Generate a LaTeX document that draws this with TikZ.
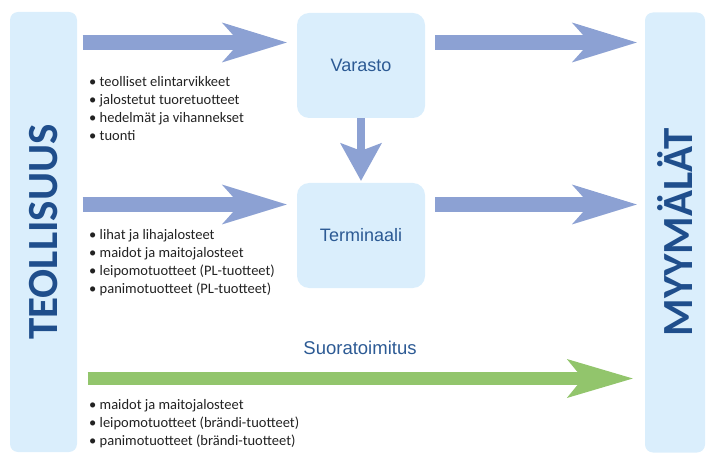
\documentclass[tikz,border=0pt]{standalone}
\usepackage{fontspec}
\setmainfont{Carlito}
\newfontfamily\arialfont{Liberation Sans}
\usepackage{graphicx}
\usepackage{xcolor}
\usetikzlibrary{arrows.meta}
\definecolor{barfill}{RGB}{218,238,252}
\definecolor{flowblue}{RGB}{140,161,211}
\definecolor{flowgreen}{RGB}{146,197,108}
\definecolor{barnavy}{RGB}{31,78,140}
\definecolor{hubblue}{RGB}{44,90,148}
\definecolor{itemgray}{RGB}{34,34,34}
\tikzset{
	bar/.style={
			fill=barfill, draw=none, rounded corners=8pt, inner sep=0pt,
			minimum height=440pt, text=barnavy,
			font=\bfseries\fontsize{43}{43}\selectfont
		},
	hub/.style={
			fill=barfill, draw=none, rounded corners=12pt,
			minimum width=128pt, minimum height=105pt, text=hubblue,
			font=\arialfont\fontsize{18}{20}\selectfont
		},
	flow/.style={
			draw=flowblue, line width=15pt,
			-{Stealth[length=65pt, width=40pt, inset=18pt, line width=0pt]}
		},
	drop/.style={
			draw=flowblue, line width=8pt,
			-{Stealth[length=38pt, width=42pt, inset=8pt, line width=0pt]}
		},
	direct/.style={
			draw=flowgreen, line width=13pt,
			-{Stealth[length=66pt, width=39pt, inset=16pt, line width=0pt]}
		},
	items/.style={
			anchor=north west, align=left, inner sep=0pt, text=itemgray,
			font=\fontsize{14.5}{18}\selectfont
		}
}

\begin{document}
\begin{tikzpicture}[x=1pt, y=-1pt]
			\useasboundingbox (0,0) rectangle (709,454);

			% Define the side bars
			\node[bar, minimum width=67pt] (teo) at (43.5,232) {\rotatebox{90}{TEOLLISUUS}};
			\node[bar, minimum width=60pt] (mym) at (675,232.5) {\rotatebox{90}{MYYMÄLÄT}};

			% Define the middle boxes
			\node[hub] (var) at (361,65.5) {Varasto};
			\node[hub] (ter) at (361,235.5) {Terminaali};

			% Heights of the flows
			\coordinate (row1) at (0,42.5);
			\coordinate (row2) at (0,204.5);
			\coordinate (row3) at (0,378.5);

			% Add the flows
			\draw[flow, shorten <=5.5pt, shorten >=10pt] (teo.east |- row1) -- (var.west |- row1);
			\draw[flow, shorten <=10pt, shorten >=8pt] (var.east |- row1) -- (mym.west |- row1);
			\draw[flow, shorten <=5.5pt, shorten >=10pt] (teo.east |- row2) -- (ter.west |- row2);
			\draw[flow, shorten <=10pt, shorten >=8pt] (ter.east |- row2) -- (mym.west |- row2);
			\draw[drop, shorten >=2pt] (var) -- (ter);
			\draw[direct, shorten <=10.5pt, shorten >=12pt] (teo.east |- row3) -- (mym.west |- row3);
			\node[text=hubblue, font=\arialfont\fontsize{18.5}{20}\selectfont] (suora) at (360,348) {Suoratoimitus};

			% Add the product lists
			\node[items] (list1) at (89,76) {• teolliset elintarvikkeet\\• jalostetut tuoretuotteet\\• hedelmät ja vihannekset\\• tuonti};
			\node[items] (list2) at (89,229) {• lihat ja lihajalosteet\\• maidot ja maitojalosteet\\• leipomotuotteet (PL-tuotteet)\\• panimotuotteet (PL-tuotteet)};
			\node[items] (list3) at (89,399) {• maidot ja maitojalosteet\\• leipomotuotteet (brändi-tuotteet)\\• panimotuotteet (brändi-tuotteet)};

		\end{tikzpicture}
\end{document}
